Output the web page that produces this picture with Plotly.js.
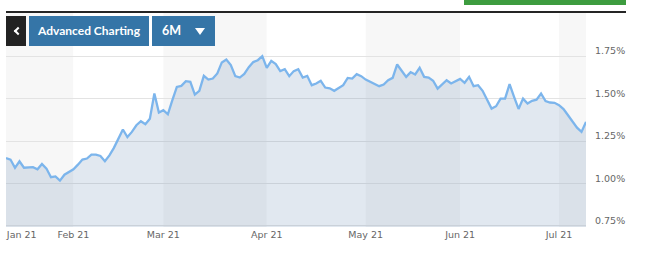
<!DOCTYPE html>
<html>
<head>
<meta charset="utf-8">
<script src="https://cdn.plot.ly/plotly-3.0.1.min.js"></script>
<style>
  html, body { margin: 0; padding: 0; background: #fff; }
  #wrap { position: relative; width: 655px; height: 265px; overflow: hidden; }
  #chart { position: absolute; left: 0; top: 0; width: 655px; height: 265px; }
  .ui { position: absolute; }
  #greenbar { left: 464px; top: 0; width: 162px; height: 5px; background: #3d9c3f; }
  #topline { left: 6px; top: 11px; width: 620px; height: 2px; background: #252525; }
  #back { left: 6px; top: 16px; width: 20px; height: 30px; background: #222; }
  #chev { position: absolute; left: 9px; top: 12px; width: 4px; height: 4px;
          border-left: 2px solid #fff; border-bottom: 2px solid #fff; transform: rotate(45deg); }
  #adv { left: 29px; top: 16px; width: 120px; height: 30px; background: #3575a7; color: #fff;
         font: bold 12px Lato, sans-serif; text-align: center; line-height: 30px; }
  #period { left: 152px; top: 16px; width: 63px; height: 30px; background: #3575a7; color: #fff;
            font: bold 12.5px Lato, sans-serif; line-height: 30px; }
  #period span { position: absolute; left: 10px; }
  #tri { position: absolute; left: 43px; top: 12px; width: 0; height: 0;
         border-left: 5px solid transparent; border-right: 5px solid transparent; border-top: 7px solid #fff; }
</style>
</head>
<body>
<div id="wrap">
  <div id="chart"></div>
  <div class="ui" id="greenbar"></div>
  <div class="ui" id="topline"></div>
  <div class="ui" id="back"><div id="chev"></div></div>
  <div class="ui" id="adv">Advanced Charting</div>
  <div class="ui" id="period"><span>6M</span><div id="tri"></div></div>
</div>
<script>
// Trading days (weekdays) shown, by month of 2021
const janDays = [11,12,13,14,15,18,19,20,21,22,25,26,27,28,29];
const febDays = [1,2,3,4,5,8,9,10,11,12,15,16,17,18,19,22,23,24,25,26];
const marDays = [1,2,3,4,5,8,9,10,11,12,15,16,17,18,19,22,23,24,25,26,29,30,31];
const aprDays = [1,2,5,6,7,8,9,12,13,14,15,16,19,20,21,22,23,26,27,28,29,30];
const mayDays = [3,4,5,6,7,10,11,12,13,14,17,18,19,20,21,24,25,26,27,28,31];
const junDays = [1,2,3,4,7,8,9,10,11,14,15,16,17,18,21,22,23,24,25,28,29,30];
const julDays = [1,2,5,6,7,8,9];

// Yield values (%) per month
const janVals = [1.150,1.141,1.092,1.131,1.093,1.096,1.096,1.084,1.115,1.088,1.037,1.042,1.017,1.052,1.066];
const febVals = [1.084,1.111,1.141,1.147,1.170,1.170,1.162,1.131,1.166,1.210,1.265,1.318,1.274,1.304,1.343,1.367,1.349,1.382,1.530,1.418];
const marVals = [1.432,1.408,1.491,1.569,1.575,1.603,1.599,1.524,1.546,1.634,1.612,1.618,1.648,1.713,1.730,1.697,1.632,1.624,1.645,1.685,1.715,1.726,1.750];
const aprVals = [1.681,1.722,1.703,1.662,1.673,1.632,1.662,1.673,1.624,1.634,1.579,1.589,1.605,1.565,1.561,1.546,1.565,1.579,1.622,1.618,1.644,1.632];
const mayVals = [1.612,1.599,1.583,1.573,1.583,1.608,1.622,1.701,1.664,1.628,1.656,1.642,1.681,1.628,1.624,1.605,1.559,1.583,1.608,1.589,1.603];
const junVals = [1.616,1.593,1.628,1.573,1.579,1.546,1.491,1.441,1.455,1.500,1.500,1.585,1.510,1.439,1.500,1.471,1.487,1.494,1.530,1.485,1.477,1.475];
const julVals = [1.461,1.438,1.402,1.363,1.329,1.304,1.363];

const tickDates = ['2021-01-14 12:00','2021-02-01','2021-03-01','2021-04-01','2021-05-03','2021-06-01','2021-07-01'];
const tickLabels = ['Jan 21','Feb 21','Mar 21','Apr 21','May 21','Jun 21','Jul 21'];
const yTicks = [0.75, 1.00, 1.25, 1.50, 1.75];
const yTickLabels = ['0.75%','1.00%','1.25%','1.50%','1.75%'];

const months = [['01',janDays,janVals],['02',febDays,febVals],['03',marDays,marVals],['04',aprDays,aprVals],
                ['05',mayDays,mayVals],['06',junDays,junVals],['07',julDays,julVals]];
const x = [], y = [];
months.forEach(([m, days, vals]) => {
  days.forEach((d, i) => { x.push('2021-' + m + '-' + String(d).padStart(2,'0')); y.push(vals[i]); });
});

const bandEdges = ['2021-01-11','2021-02-01','2021-03-01','2021-04-01','2021-05-03','2021-06-01','2021-07-01','2021-07-09'];
const shapes = [];
for (let i = 0; i < bandEdges.length - 1; i++) {
  shapes.push({type:'rect', xref:'x', yref:'paper', x0:bandEdges[i], x1:bandEdges[i+1], y0:0, y1:1,
               fillcolor: i % 2 === 0 ? '#f7f7f7' : '#ffffff', line:{width:0}, layer:'below'});
}

const trace = {
  x: x, y: y, type: 'scatter', mode: 'lines',
  line: {color: '#7cb5ec', width: 2.3},
  fill: 'tozeroy', fillcolor: 'rgba(90,130,170,0.18)',
  hoverinfo: 'skip'
};

const layout = {
  width: 655, height: 265,
  margin: {l: 6, r: 69, t: 13, b: 38},
  paper_bgcolor: '#ffffff', plot_bgcolor: '#ffffff',
  showlegend: false,
  shapes: shapes,
  font: {family: 'DejaVu Sans, sans-serif', size: 9.5, color: '#666666'},
  xaxis: {
    type: 'date', range: ['2021-01-11','2021-07-09'],
    rangebreaks: [{bounds: ['sat','mon']}],
    tickvals: tickDates, ticktext: tickLabels,
    showgrid: false, zeroline: false, showline: false, ticks: '',
    tickfont: {family: 'DejaVu Sans, sans-serif', size: 9.5, color: '#666666'}
  },
  yaxis: {
    side: 'right', range: [0.744, 2.004],
    tickvals: yTicks, ticktext: yTickLabels,
    showgrid: true, gridcolor: '#e3e3e3', gridwidth: 1,
    zeroline: false, showline: false, ticks: '',
    ticklabelstandoff: 8, ticklabelshift: -5,
    tickfont: {family: 'DejaVu Sans, sans-serif', size: 9.5, color: '#666666'}
  }
};

Plotly.newPlot('chart', [trace], layout, {staticPlot: true, displayModeBar: false});
</script>
</body>
</html>
